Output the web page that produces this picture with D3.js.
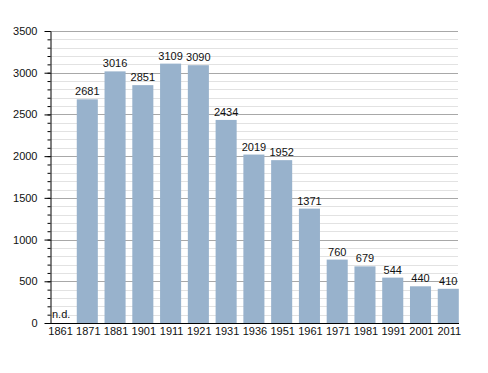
<!DOCTYPE html>
<html>
<head>
<meta charset="utf-8">
<script src="https://cdn.jsdelivr.net/npm/d3@7"></script>
<style>
  body { margin: 0; background: #fff; }
  text { font-family: "Liberation Sans", Arial, sans-serif; }
</style>
</head>
<body>
<div id="chart"></div>
<script>
const years = ['1861', '1871', '1881', '1901', '1911', '1921', '1931', '1936', '1951', '1961', '1971', '1981', '1991', '2001', '2011'];
const population = [null, 2681, 3016, 2851, 3109, 3090, 2434, 2019, 1952, 1371, 760, 679, 544, 440, 410];
const yTicks = [0, 500, 1000, 1500, 2000, 2500, 3000, 3500];

const WIDTH = 488;
const HEIGHT = 373;
const plotLeft = 50, plotRight = 458, plotTop = 31, plotBottom = 323;

const svg = d3
  .select('#chart')
  .append('svg')
  .attr('width', WIDTH)
  .attr('height', HEIGHT);

const scaleX = d3
  .scaleBand()
  .domain(years)
  .range([49, 458.8])
  .paddingInner(0.242)
  .paddingOuter(0);
const scaleY = d3.scaleLinear().domain([0, 3500]).range([plotBottom, plotTop]);

// minor + major gridlines
const minor = d3.range(100, 3501, 100).filter((v) => v % 500 !== 0);
svg
  .append('g')
  .selectAll('line')
  .data(minor)
  .join('line')
  .attr('x1', plotLeft)
  .attr('x2', plotRight)
  .attr('y1', (d) => Math.round(scaleY(d)) + 0.5)
  .attr('y2', (d) => Math.round(scaleY(d)) + 0.5)
  .attr('stroke', '#e2e2e2');
svg
  .append('g')
  .selectAll('line')
  .data(yTicks.slice(1))
  .join('line')
  .attr('x1', plotLeft)
  .attr('x2', plotRight)
  .attr('y1', (d) => Math.round(scaleY(d)) + 0.5)
  .attr('y2', (d) => Math.round(scaleY(d)) + 0.5)
  .attr('stroke', '#a8a8a8');

// bars
svg
  .append('g')
  .selectAll('rect')
  .data(years.filter((y, i) => population[i] != null))
  .join('rect')
  .attr('x', (d) => scaleX(d))
  .attr('width', scaleX.bandwidth())
  .attr('y', (d) => scaleY(population[years.indexOf(d)]))
  .attr('height', (d) => plotBottom - scaleY(population[years.indexOf(d)]))
  .attr('fill', '#98b2cc');

// value labels
svg
  .append('g')
  .selectAll('text')
  .data(years)
  .join('text')
  .attr('x', (d, i) => population[i] == null ? scaleX(d) + 3 : scaleX(d) + scaleX.bandwidth() / 2)
  .attr('y', (d, i) => population[i] == null ? plotBottom - 5 : scaleY(population[i]) - 4)
  .attr('text-anchor', (d, i) => population[i] == null ? 'start' : 'middle')
  .attr('font-size', 11)
  .attr('fill', '#111')
  .text((d, i) => population[i] == null ? 'n.d.' : population[i]);

// y axis with minor ticks
svg
  .append('g')
  .attr('transform', `translate(${plotLeft + 0.5},0)`)
  .call(d3.axisLeft(scaleY).tickValues(d3.range(0, 3501, 100)).tickSize(3).tickFormat(''))
  .call((g) => g.select('.domain').remove());
const axisY = svg
  .append('g')
  .attr('transform', `translate(${plotLeft + 0.5},0)`)
  .call(d3.axisLeft(scaleY).tickValues(yTicks).tickFormat(d3.format('d')).tickSize(6).tickPadding(7).tickSizeOuter(0));
axisY.selectAll('text').attr('font-size', 11).attr('fill', '#111').attr('font-family', '"Liberation Sans", Arial, sans-serif');
axisY.select('.domain').attr('stroke', '#000');

// x axis
svg
  .append('line')
  .attr('x1', 45)
  .attr('x2', plotRight + 1)
  .attr('y1', plotBottom + 0.5)
  .attr('y2', plotBottom + 0.5)
  .attr('stroke', '#000');
svg
  .append('g')
  .selectAll('text')
  .data(years)
  .join('text')
  .attr('x', (d) => scaleX(d) + scaleX.bandwidth() / 2 + 1)
  .attr('y', plotBottom + 12)
  .attr('text-anchor', 'middle')
  .attr('font-size', 11)
  .attr('fill', '#111')
  .text((d) => d);
</script>
</body>
</html>
